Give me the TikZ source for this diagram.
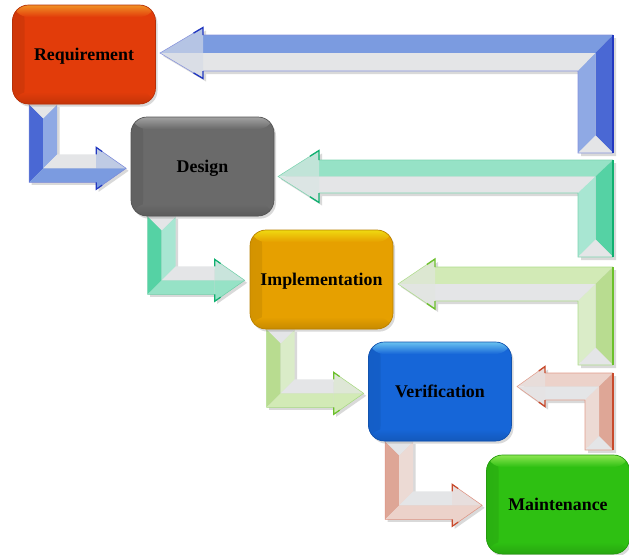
\documentclass[tikz,border=0pt]{standalone}
\usepackage{fontspec}
\setmainfont{Liberation Serif}
\usetikzlibrary{shadows}
\pgfdeclarelayer{bg}
\pgfsetlayers{bg,main}
\definecolor{grayc}{HTML}{E4E5E7}
% blue
\definecolor{blTop}{HTML}{7B9BE0}
\definecolor{blDark}{HTML}{4A68D4}
\definecolor{blLight}{HTML}{8FA9E4}
\definecolor{blEdge}{HTML}{2238C0}
% mint green
\definecolor{gnTop}{HTML}{96E2C6}
\definecolor{gnDark}{HTML}{55D2A4}
\definecolor{gnLight}{HTML}{A8E6D2}
\definecolor{gnEdge}{HTML}{10B070}
% light green
\definecolor{lgTop}{HTML}{D2EAB6}
\definecolor{lgDark}{HTML}{B8DC90}
\definecolor{lgLight}{HTML}{DAECC8}
\definecolor{lgEdge}{HTML}{6CC02C}
% salmon
\definecolor{saTop}{HTML}{ECD2CA}
\definecolor{saDark}{HTML}{DEA696}
\definecolor{saLight}{HTML}{ECDAD4}
\definecolor{saEdge}{HTML}{C84A2C}
% boxes
\definecolor{reqc}{HTML}{E23C0A}
\definecolor{reqh}{HTML}{F29A28}
\definecolor{desc}{HTML}{6A6A6A}
\definecolor{desh}{HTML}{A8A8A8}
\definecolor{impc}{HTML}{E6A000}
\definecolor{imph}{HTML}{F0E012}
\definecolor{verc}{HTML}{1666D8}
\definecolor{verh}{HTML}{72CCF2}
\definecolor{mntc}{HTML}{2EC012}
\definecolor{mnth}{HTML}{96EA58}

\tikzset{
  glossbox/.style 2 args={rectangle, rounded corners=12pt,
    minimum width=107.25pt, minimum height=74.25pt, inner sep=0pt,
    text height=9pt, text depth=0pt,
    fill=#1, draw=#1!80!black, line width=0.5pt,
    font=\fontsize{13.4}{16}\selectfont\bfseries, text=black,
    drop shadow={opacity=0.3, shadow xshift=1.5pt, shadow yshift=-2pt},
    path picture={
      \shade[left color=#1!92!black, right color=#1]
        ([xshift=-1pt,yshift=1pt]path picture bounding box.north west) rectangle
        ([xshift=9pt,yshift=-1pt]path picture bounding box.south west);
      \shade[top color=#2, bottom color=#1]
        ([yshift=1pt]path picture bounding box.north west) rectangle
        ([yshift=-9pt]path picture bounding box.north east);
      \shade[top color=#1, bottom color=#1!85!black]
        ([yshift=9pt]path picture bounding box.south west) rectangle
        ([yshift=-1pt]path picture bounding box.south east);
    }}
}

% L-shaped down arrow from a box to the next box
\newcommand\dnarrow[2]{%
\begin{scope}[shift={(#1.south west)}]
\fill[black,opacity=0.15,shift={(2.5,2.5)}] (17,0)--(17,78)--(84,78)--(84,85)--(114,64)--(84,43)--(84,50)--(45,50)--(45,0)--cycle;
\fill[#2Dark] (17,0)--(31,14)--(31,64)--(17,78)--cycle;
\fill[#2Light] (45,0)--(31,14)--(31,64)--(45,50)--cycle;
\fill[grayc] (17,0)--(45,0)--(31,14)--cycle;
\fill[grayc] (45,50)--(31,64)--(84,64)--(84,50)--cycle;
\fill[#2Top] (17,78)--(31,64)--(84,64)--(84,78)--cycle;
\fill[#2Top!35!grayc] (84,43)--(114,64)--(84,64)--cycle;
\fill[#2Top] (84,64)--(114,64)--(84,85)--cycle;
\draw[#2Edge!60!white,line width=0.4pt] (17,0)--(17,78)--(84,78) (84,43)--(114,64)--(84,85);
\draw[#2Edge,line width=0.9pt] (84,50)--(84,43)--(90,47.2) (84,78)--(84,85)--(90,80.8);
\end{scope}}

% feedback arrow: #1 top, #2 bottom of band, #3 #4 column x, #5 column bottom,
% #6 head back x, #7 tip x, #8 head half height, #9 colour prefix
\newcommand\fbarrow[9]{%
\pgfmathsetmacro\fbR{(#1+#2)/2}%
\pgfmathsetmacro\fbC{(#3+#4)/2}%
\pgfmathsetmacro\fbCap{#5-(#4-#3)/2}%
\pgfmathsetmacro\fbHu{\fbR-#8}%
\pgfmathsetmacro\fbHd{\fbR+#8}%
\pgfmathsetmacro\fbBx{#6+0.22*(#7-#6)}%
\pgfmathsetmacro\fbBu{\fbHu+0.22*#8}%
\pgfmathsetmacro\fbBd{\fbHd-0.22*#8}%
\fill[black,opacity=0.15,shift={(3,3)}] (#4,#1)--(#4,#5)--(#3,#5)--(#3,#2)--(#6,#2)--(#6,\fbHd)--(#7,\fbR)--(#6,\fbHu)--(#6,#1)--cycle;
\fill[#9Top] (#6,#1)--(#4,#1)--(\fbC,\fbR)--(#6,\fbR)--cycle;
\fill[grayc] (#6,\fbR)--(\fbC,\fbR)--(#3,#2)--(#6,#2)--cycle;
\fill[#9Dark] (#4,#1)--(#4,#5)--(\fbC,\fbCap)--(\fbC,\fbR)--cycle;
\fill[#9Light] (\fbC,\fbR)--(\fbC,\fbCap)--(#3,#5)--(#3,#2)--cycle;
\fill[grayc] (#3,#5)--(#4,#5)--(\fbC,\fbCap)--cycle;
\fill[#9Top!45!grayc] (#6,\fbHu)--(#7,\fbR)--(#6,\fbR)--cycle;
\fill[grayc!90!#9Top] (#6,\fbR)--(#7,\fbR)--(#6,\fbHd)--cycle;
\draw[#9Edge!55!white,line width=0.4pt] (#6,#1)--(#4,#1) (#3,#2)--(#6,#2) (#3,#2)--(#3,#5)--(#4,#5) (#6,\fbHu)--(#7,\fbR)--(#6,\fbHd);
\draw[#9Edge,line width=1pt] (#4,#1)--(#4,#5);
\draw[#9Edge,line width=1pt] (#6,#1)--(#6,\fbHu)--(\fbBx,\fbBu) (#6,#2)--(#6,\fbHd)--(\fbBx,\fbBd);
}

\begin{document}
\begin{tikzpicture}[x=0.75pt,y=-0.75pt]
\useasboundingbox (0,0) rectangle (629,554);

\node[glossbox={reqc}{reqh}] (req) at (84,54.5) {Requirement};
\node[glossbox={desc}{desh}] (des) at (202.5,166.5) {Design};
\node[glossbox={impc}{imph}] (imp) at (321.5,279.5) {Implementation};
\node[glossbox={verc}{verh}] (ver) at (440,391.5) {Verification};
\node[glossbox={mntc}{mnth}] (mnt) at (558,504.5) {Maintenance};

\begin{pgfonlayer}{bg}
\dnarrow{req}{bl}
\dnarrow{des}{gn}
\dnarrow{imp}{lg}
\dnarrow{ver}{sa}
\fbarrow{35}{71}{578}{613}{153}{203}{160}{25.5}{bl}
\fbarrow{160}{193}{578}{613}{257}{319}{278}{26}{gn}
\fbarrow{267}{301}{578}{613}{365}{435}{398}{25}{lg}
\fbarrow{373}{400}{585}{613}{450}{545}{517}{20}{sa}
\end{pgfonlayer}
\end{tikzpicture}
\end{document}
